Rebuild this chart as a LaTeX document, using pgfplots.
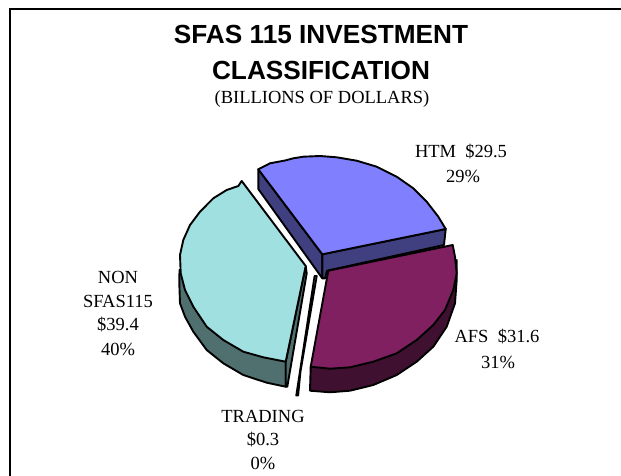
\documentclass[border=0pt]{standalone}
\usepackage{fontspec}
\setmainfont{Liberation Serif}
\newfontfamily\arialf{Liberation Sans}
\usepackage{pgfplots}
\pgfplotsset{compat=1.18}
\definecolor{htm}{HTML}{8080FF}
\definecolor{htmd}{HTML}{404080}
\definecolor{afs}{HTML}{802060}
\definecolor{afsd}{HTML}{401030}
\definecolor{non}{HTML}{A0E0E0}
\definecolor{nond}{HTML}{507070}
\definecolor{trd}{HTML}{77775A}
\begin{document}
\begin{tikzpicture}[x=1pt,y=1pt]
\path[use as bounding box] (0,0) rectangle (621,476);
\begin{axis}[at={(0,0)},anchor=south west,scale only axis,width=621pt,height=476pt,
  xmin=0,xmax=621,ymin=0,ymax=476,y dir=reverse,hide axis,clip=false,
  every axis plot/.append style={draw=black,line width=1.9pt,line join=round}]
% frame
\addplot[draw=black,line width=2pt,line join=miter] coordinates {(10,476)(10,9)(621,9)};
% TRADING
\addplot[fill=trd,line width=1.7pt] coordinates {(314.5,276)(316.8,276)(300.5,372)(298.2,395.5)(296.2,395.5)} --cycle;
% HTM walls
\addplot[fill=htmd] coordinates {(258.3,169.3)(322.3,254.3)(322.3,278.3)(258.3,189)} --cycle;
\addplot[fill=htmd] coordinates {(322.3,254.3)(445.7,229)(444,245)(327,270.7)(325,278.3)(322.3,278.3)} --cycle;
% HTM top
\addplot[fill=htm] coordinates {(322.3,254.3)(258.3,169.3)(270,163.3)(285,160.5)(293.3,158.3)(303.3,156.7)(320,156)(336.7,157.3)(356.7,160.7)(376.7,166.7)(396.7,176.7)(413.3,188.3)(426.7,201.7)(438.3,216.7)(445.7,229)} --cycle;
% AFS wall
\addplot[fill=afsd] coordinates {(310.7,366.7)(310,390.7)(330,392.3)(350,390.7)(373.3,385)(396.7,375)(416.7,361.7)(433.3,346.7)(446.7,326.7)(455,303.3)(456.7,280)(456.7,260)(400,340)} --cycle;
% AFS top
\addplot[fill=afs] coordinates {(328.3,270.7)(452.7,245)(455,256.7)(456.7,273.3)(453.3,290)(445,310)(433.3,325)(416.7,340)(396.7,353.3)(373.3,361.7)(350,367.3)(330,368.7)(310.7,366.7)} --cycle;
% NON walls
\addplot[fill=nond] coordinates {(285.7,361.7)(285.7,386.7)(266.7,382.7)(243.3,375)(223.3,363.3)(206.7,350)(193.3,331.7)(185,316.7)(180,303.3)(179.3,283.3)(179.5,270)(230,320)} --cycle;
\addplot[fill=nond] coordinates {(305.7,266)(306.7,273.3)(287.3,386.7)(285.7,386.7)(285.7,361.7)} --cycle;
% NON top
\addplot[fill=non] coordinates {(305.7,266)(241.7,181)(238.3,186)(226.7,190)(213.3,198.3)(200,211.7)(190,225)(183.3,240)(180,255)(180.7,273.3)(185,290)(193.3,306.7)(206.7,326.7)(223.3,340)(243.3,351.7)(263.3,357.3)(285.7,361.7)} --cycle;
% texts
\node[font=\arialf\bfseries\fontsize{26.2}{28}\selectfont] at (axis cs:321,34) {SFAS 115 INVESTMENT};
\node[font=\arialf\bfseries\fontsize{26.2}{28}\selectfont] at (axis cs:321,70) {CLASSIFICATION};
\node[font=\fontsize{18.5}{20}\selectfont] at (axis cs:322,99) {(BILLIONS OF DOLLARS)};
\node[font=\fontsize{18.5}{20}\selectfont] at (axis cs:461,152) {HTM\ \ \$29.5};
\node[font=\fontsize{18.5}{20}\selectfont] at (axis cs:463,176) {29\%};
\node[font=\fontsize{18.5}{20}\selectfont] at (axis cs:118,277) {NON};
\node[font=\fontsize{18.5}{20}\selectfont] at (axis cs:118,301) {SFAS115};
\node[font=\fontsize{18.5}{20}\selectfont] at (axis cs:118,325) {\$39.4};
\node[font=\fontsize{18.5}{20}\selectfont] at (axis cs:118,349) {40\%};
\node[font=\fontsize{18.5}{20}\selectfont] at (axis cs:497,337) {AFS\ \ \$31.6};
\node[font=\fontsize{18.5}{20}\selectfont] at (axis cs:498,362) {31\%};
\node[font=\fontsize{18.5}{20}\selectfont] at (axis cs:263,416) {TRADING};
\node[font=\fontsize{18.5}{20}\selectfont] at (axis cs:263,440) {\$0.3};
\node[font=\fontsize{18.5}{20}\selectfont] at (axis cs:263,463) {0\%};
\end{axis}
\end{tikzpicture}
\end{document}
